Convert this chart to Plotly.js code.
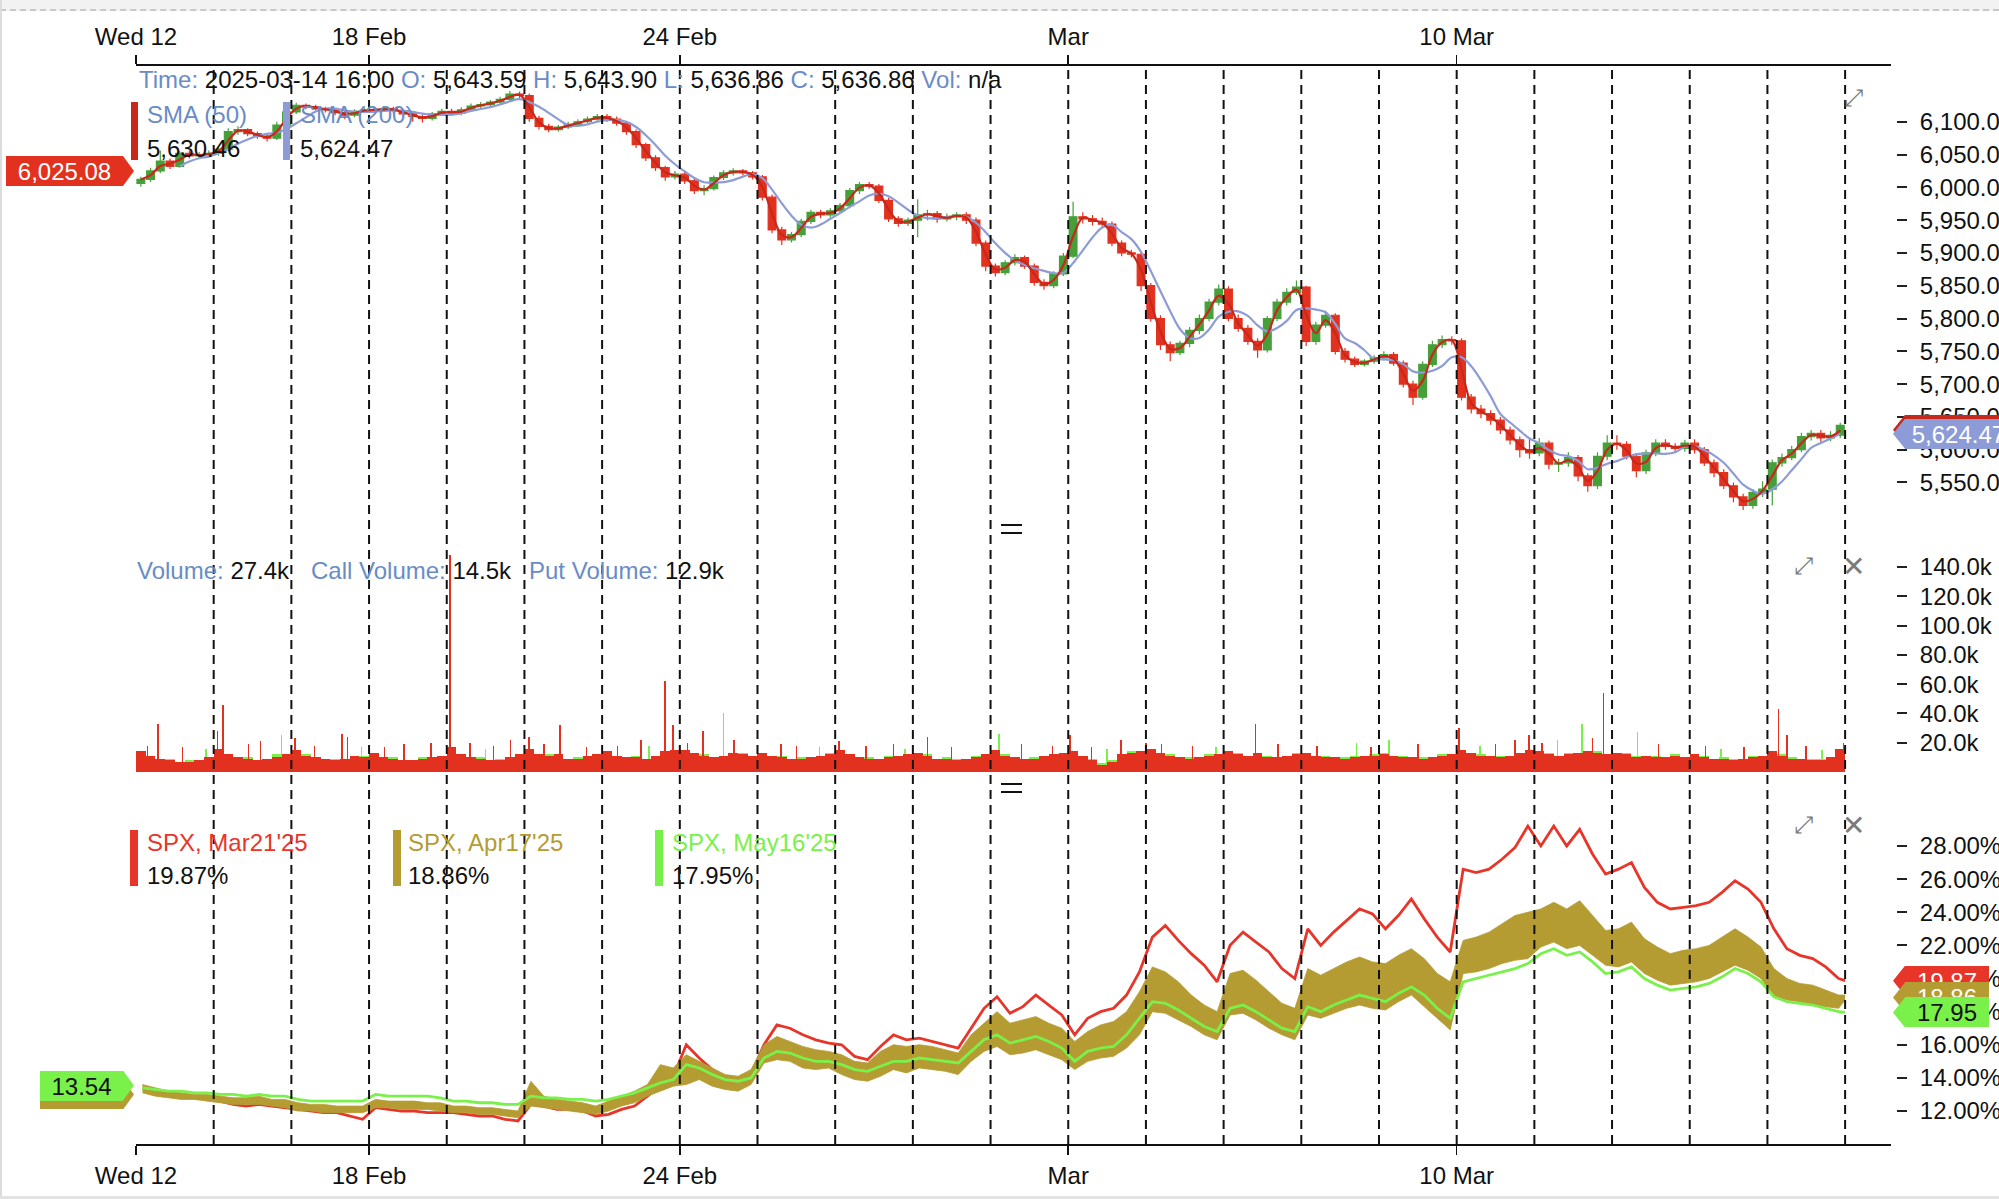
<!DOCTYPE html>
<html><head><meta charset="utf-8">
<script src="https://cdn.plot.ly/plotly-3.0.1.min.js"></script>
<style>
html,body{margin:0;padding:0;background:#fff;overflow:hidden;}
#chart{position:absolute;left:0;top:0;width:1999px;height:1199px;}
#topband{position:absolute;left:0;top:0;width:1999px;height:9px;background:#f2f2f2;border-bottom:2px dashed #c8c8c8;z-index:5;}
#leftedge{position:absolute;left:0;top:0;width:2px;height:1199px;background:#dcdcdc;z-index:5;}
#bottomedge{position:absolute;left:0;top:1196px;width:1999px;height:3px;background:#e2e2e2;z-index:5;}
</style></head><body>
<div id="chart"></div>
<div id="topband"></div><div id="leftedge"></div><div id="bottomedge"></div>
<script>
// ---------- DATA ----------
const tickPos  = [0, 3, 7, 12, 17];
const tickText = ['Wed 12', '18 Feb', '24 Feb', 'Mar', '10 Mar'];
const tradingDays = ['12 Feb','13 Feb','14 Feb','18 Feb','19 Feb','20 Feb','21 Feb','24 Feb','25 Feb','26 Feb','27 Feb','28 Feb',
                     '3 Mar','4 Mar','5 Mar','6 Mar','7 Mar','10 Mar','11 Mar','12 Mar','13 Mar','14 Mar'];
const candlesPerDay = 8;
const firstOpen = 6006;
const pxClose = [
 6012,6025,6040,6032,6052,6048,6050,6052,
 6058,6085,6088,6082,6078,6075,6095,6115,
 6125,6123,6120,6118,6114,6110,6116,6118,
 6118,6120,6117,6112,6108,6105,6112,6116,
 6113,6118,6124,6126,6130,6134,6142,6140,
 6105,6093,6088,6092,6096,6100,6104,6108,
 6104,6098,6085,6065,6045,6030,6016,6020,
 6010,5995,5998,6015,6022,6025,6022,6016,
 5985,5935,5920,5928,5948,5962,5958,5964,
 5972,5995,6004,6002,5980,5952,5945,5950,
 5958,5960,5952,5955,5958,5950,5915,5880,
 5870,5885,5893,5880,5855,5850,5868,5895,
 5955,5952,5948,5944,5915,5900,5898,5850,
 5800,5760,5748,5762,5782,5800,5825,5845,
 5800,5785,5765,5752,5800,5825,5840,5848,
 5765,5790,5805,5750,5738,5730,5735,5740,
 5745,5732,5700,5680,5730,5760,5768,5766,
 5680,5662,5655,5645,5630,5615,5600,5595,
 5610,5578,5580,5588,5560,5545,5590,5610,
 5608,5590,5568,5595,5610,5605,5602,5610,
 5600,5580,5565,5545,5528,5515,5535,5540,
 5580,5588,5600,5620,5625,5618,5622,5637
];
const pxHigh = [
 6016,6030,6056,6044,6055,6056,6054,6056,
 6062,6090,6093,6090,6085,6081,6100,6120,
 6129,6128,6126,6123,6121,6117,6119,6122,
 6122,6124,6123,6119,6115,6111,6115,6120,
 6120,6122,6128,6130,6133,6138,6147,6146,
 6143,6109,6097,6095,6100,6104,6108,6112,
 6112,6108,6101,6088,6068,6049,6033,6025,
 6024,6014,6003,6018,6026,6029,6028,6025,
 6019,5989,5940,5932,5952,5966,5966,5968,
 5976,5999,6008,6008,6005,5984,5956,5954,
 5982,5966,5964,5960,5962,5962,5954,5919,
 5884,5889,5898,5896,5884,5860,5872,5900,
 5978,5962,5958,5954,5948,5919,5905,5902,
 5854,5805,5765,5766,5787,5806,5830,5852,
 5849,5806,5790,5770,5804,5830,5846,5858,
 5850,5795,5812,5808,5755,5742,5738,5744,
 5750,5749,5736,5705,5735,5766,5774,5773,
 5770,5685,5668,5660,5650,5635,5620,5618,
 5618,5614,5586,5596,5592,5564,5596,5622,
 5622,5613,5594,5600,5616,5616,5610,5615,
 5616,5604,5585,5570,5550,5533,5540,5552,
 5585,5594,5606,5626,5630,5630,5628,5641
];
const pxLow = [
 6001,6008,6022,6028,6030,6044,6045,6047,
 6048,6055,6080,6078,6074,6070,6072,6092,
 6112,6119,6117,6114,6110,6104,6107,6113,
 6114,6115,6113,6108,6100,6099,6102,6109,
 6109,6110,6115,6120,6123,6127,6131,6136,
 6100,6088,6084,6085,6089,6093,6098,6101,
 6100,6094,6080,6060,6040,6025,6010,6012,
 6005,5990,5988,5995,6011,6018,6018,6012,
 5980,5930,5912,5916,5924,5944,5953,5954,
 5960,5968,5990,5998,5976,5947,5940,5941,
 5924,5950,5946,5948,5950,5944,5910,5872,
 5864,5866,5881,5876,5850,5844,5846,5865,
 5892,5945,5942,5939,5910,5895,5893,5842,
 5795,5752,5735,5744,5756,5776,5796,5820,
 5796,5780,5760,5740,5748,5796,5820,5836,
 5758,5760,5786,5745,5733,5726,5727,5731,
 5736,5728,5695,5668,5676,5726,5755,5760,
 5675,5655,5648,5638,5624,5608,5588,5586,
 5590,5570,5566,5574,5552,5536,5540,5584,
 5600,5585,5558,5563,5590,5600,5596,5597,
 5594,5575,5558,5540,5520,5508,5510,5528,
 5515,5574,5584,5596,5614,5612,5613,5618
];
const smaFastLen = 2, smaSlowLen = 5;   // shown as SMA (50) / SMA (200) on 1-min bars
const priceTicks = [5550,5600,5650,5700,5750,5800,5850,5900,5950,6000,6050,6100];

// volume (thousands), 8 buckets per day
const volPut = [
 14,11,9,8,7,7,8,10,  16,12,10,9,8,9,10,12,  15,11,10,9,8,9,11,10,  13,10,9,8,8,9,10,11,
 17,12,10,9,8,8,10,12,  16,12,11,12,9,9,11,12,  14,11,10,10,9,11,14,15,  15,13,11,10,11,13,12,11,
 13,11,10,9,9,10,11,12,  15,12,10,9,9,10,11,12,  13,11,9,9,8,9,10,12,  15,11,10,9,9,11,12,13,
 14,11,8,5,7,12,13,14,  16,13,11,10,9,10,11,12,  14,12,11,13,10,10,11,12,  13,11,10,10,9,10,11,11,
 12,11,10,10,9,10,11,12,  15,13,11,11,10,11,13,15,  14,12,11,12,13,14,13,12,  13,12,10,11,10,10,11,10,
 12,10,9,9,8,9,10,11,  14,11,9,9,8,8,10,16
];
const volCall = [
 12,9,8,9,6,8,7,9,  13,11,9,10,7,8,12,11,  13,12,9,8,9,8,9,11,  12,9,10,7,7,10,9,10,
 14,11,9,10,7,9,9,11,  15,11,12,10,8,10,10,11,  12,10,9,11,8,10,12,14,  14,12,12,9,10,12,13,10,
 12,10,11,8,10,9,10,13,  13,11,9,10,8,11,10,11,  12,12,8,10,9,8,11,11,  14,12,9,8,10,10,11,12,
 13,10,9,6,8,11,14,13,  15,12,12,9,10,9,12,11,  13,13,10,11,11,9,10,13,  12,10,11,9,10,11,10,12,
 13,10,11,9,10,9,12,11,  14,12,12,10,11,10,12,14,  13,13,10,13,12,13,14,11,  12,13,11,10,11,9,12,9,
 11,11,8,10,9,8,11,10,  13,12,10,8,9,9,9,15
];
const putSpikeX = [0.15,0.28,0.6,1.05,1.12,1.45,1.6,2.05,2.3,2.65,2.72,3.2,3.45,3.8,4.04,4.3,4.6,4.82,5.06,5.25,5.46,5.8,
 6.2,6.5,6.81,6.91,7.1,7.3,7.7,8.3,8.5,9.05,9.4,9.75,10.19,10.5,11.4,11.8,12.02,12.3,12.68,13.0,13.2,13.6,14.41,14.7,
 15.2,15.9,16.5,17.03,17.5,17.75,17.93,18.1,18.75,18.89,19.6,20.2,20.7,21.14,21.25,21.5,21.98];
const putSpikeV = [18,33,17,28,46,19,21,23,18,26,24,17,19,20,148,20,18,22,24,19,32,17,
 18,22,62,32,20,28,22,19,18,21,18,19,24,17,19,18,25,17,22,20,19,18,33,19,
 18,17,19,30,19,22,25,20,23,54,19,18,17,43,25,18,20];
const callSpikeX = [0.9,1.87,2.9,4.5,6.6,7.56,8.8,9.9,11.11,12.5,13.9,15.71,16.13,17.3,18.3,18.61,19.33,20.4,21.7];
const callSpikeV = [16,25,17,16,18,40,17,16,26,16,17,20,22,18,22,33,27,16,15];
const volTicks = [20,40,60,80,100,120,140];

// implied volatility (%), 6 samples per day + final close value
const ivPerDay = 6;
const ivMar = [
 13.4,13.2,13.0,12.9,12.8,12.8, 12.6,12.4,12.3,12.4,12.3,12.2, 12.1,12.0,11.9,11.9,11.7,11.5,
 12.2,12.1,12.0,12.0,11.9,11.9, 11.9,11.8,11.7,11.7,11.5,11.4, 12.4,12.3,12.1,12.1,12.0,11.7,
 11.8,12.1,12.3,12.9,13.5,14.1, 16.0,15.2,14.5,14.0,13.9,14.2, 16.0,17.2,17.0,16.6,16.3,16.1,
 16.0,15.3,15.1,15.9,16.6,16.3, 16.4,16.2,16.0,15.8,17.0,18.2, 18.9,17.9,18.3,19.0,18.4,17.8,
 16.6,17.6,18.0,18.2,19.0,20.4, 22.5,23.2,22.3,21.5,20.8,19.8, 22.0,22.8,22.2,21.6,20.6,20.0,
 23.0,22.0,22.8,23.5,24.2,23.9, 23.0,23.8,24.8,23.6,22.5,21.6, 26.6,26.4,26.6,27.2,27.9,29.2,
 28.0,29.2,28.0,29.0,27.5,26.3, 26.6,27.0,25.5,24.6,24.2,24.3, 24.4,24.6,25.2,25.9,25.4,24.6,
 23.0,21.8,21.4,21.2,20.7,20.0, 19.87
];
const ivMay = [
 13.4,13.3,13.2,13.2,13.1,13.1, 13.0,13.0,12.9,13.0,12.9,12.9, 12.7,12.6,12.6,12.6,12.6,12.6,
 13.0,12.9,12.9,12.9,12.9,12.8, 12.6,12.6,12.5,12.5,12.4,12.4, 12.9,12.8,12.8,12.7,12.7,12.6,
 12.7,12.9,13.1,13.4,13.7,13.9, 14.8,14.6,14.2,13.9,13.8,14.0, 15.2,15.6,15.5,15.2,15.0,15.0,
 14.8,14.5,14.4,14.7,15.0,15.0, 15.2,15.1,15.0,14.9,15.6,16.3, 16.6,16.1,16.3,16.5,16.2,15.8,
 15.0,15.6,15.8,15.9,16.6,17.6, 18.6,18.5,18.1,17.6,17.1,16.8, 18.2,18.4,18.0,17.5,17.0,16.8,
 18.3,18.0,18.4,18.7,19.0,18.8, 18.6,19.1,19.5,19.0,18.2,17.6, 19.8,20.0,20.2,20.4,20.6,20.9,
 21.5,21.8,21.4,21.6,21.0,20.3, 20.4,20.7,20.0,19.6,19.3,19.4, 19.5,19.7,20.1,20.6,20.3,19.8,
 18.9,18.6,18.5,18.4,18.2,18.0, 17.95
];
const ivAprHigh = [
 13.6,13.4,13.2,13.1,13.0,13.0, 12.9,12.8,12.8,12.9,12.7,12.7, 12.5,12.4,12.4,12.3,12.3,12.3,
 12.7,12.6,12.6,12.6,12.5,12.5, 12.3,12.3,12.2,12.2,12.1,12.0, 13.8,12.9,12.7,12.6,12.5,12.3,
 12.6,12.9,13.2,13.6,14.8,14.6, 15.4,15.0,14.6,14.2,14.1,14.5, 16.0,16.5,16.2,15.9,15.7,15.6,
 15.4,15.0,14.9,15.6,16.0,15.9, 16.0,15.9,15.7,15.5,16.6,17.3, 18.0,17.3,17.5,17.7,17.3,17.0,
 16.2,16.8,17.2,17.4,18.0,19.2, 20.7,20.4,19.8,19.0,18.4,18.0, 20.3,20.5,19.9,19.2,18.5,18.2,
 20.6,20.2,20.6,21.0,21.3,21.0, 20.9,21.4,21.8,21.2,20.3,19.8, 22.3,22.5,22.8,23.3,23.8,24.0,
 24.2,24.6,24.2,24.7,23.8,22.9, 23.0,23.4,22.4,21.9,21.5,21.7, 21.8,22.0,22.5,23.0,22.5,21.9,
 20.6,20.0,19.7,19.6,19.3,19.0, 19.0
];
const ivAprLow = [
 13.1,12.9,12.8,12.7,12.7,12.6, 12.5,12.4,12.4,12.4,12.3,12.2, 12.0,12.0,11.9,11.9,11.9,11.9,
 12.2,12.2,12.1,12.1,12.1,12.0, 11.9,11.9,11.8,11.8,11.7,11.6, 12.3,12.2,12.1,12.0,11.9,11.8,
 12.0,12.3,12.5,12.9,13.2,13.5, 13.6,13.9,13.5,13.3,13.2,13.6, 14.9,15.1,15.0,14.6,14.5,14.6,
 14.2,13.9,13.8,14.1,14.5,14.3, 14.6,14.5,14.4,14.2,15.0,15.6, 15.9,15.4,15.5,15.7,15.4,15.1,
 14.5,15.0,15.2,15.3,15.8,16.6, 18.0,17.9,17.5,17.1,16.6,16.3, 17.8,17.9,17.5,17.0,16.6,16.3,
 17.8,17.6,17.9,18.2,18.4,18.2, 18.1,18.6,19.0,18.3,17.6,16.9, 20.3,20.4,20.6,20.9,21.1,21.2,
 21.9,22.2,21.8,22.0,21.4,20.8, 20.7,21.0,20.3,19.9,19.6,19.7, 19.8,20.0,20.4,20.8,20.5,20.0,
 18.9,18.7,18.6,18.4,18.3,18.2, 18.7
];
const ivTicks = [12,14,16,18,20,22,24,26,28];

// legend / tag texts
const lastBar = {time:'2025-03-14 16:00', O:'5,643.59', H:'5,643.90', L:'5,636.86', C:'5,636.86', Vol:'n/a'};
const smaVals = {fast:'5,630.46', slow:'5,624.47', fastNum:5630.46, slowNum:5624.47};
const volVals = {total:'27.4k', call:'14.5k', put:'12.9k'};
const ivNames = ["SPX, Mar21'25", "SPX, Apr17'25", "SPX, May16'25"];
const ivLast  = [19.87, 18.86, 17.95];
const firstTag = {price:6025.08, iv:13.54};

// ---------- COLOURS ----------
const C_UP='#45a03a', C_DN='#e2321f', C_SMAF='#c8281c', C_SMAS='#8d9cd6';
const C_RED='#e8352a', C_GOLD='#b49c32', C_GREEN='#7af04a', C_LBL='#6a8cc6';

// ---------- BUILD ----------
const candleX = pxClose.map((_, i) => Math.floor(i / candlesPerDay) + (i % candlesPerDay + 0.5) / candlesPerDay);
const pxOpen = pxClose.map((c, i) => i === 0 ? firstOpen : pxClose[i - 1]);
function sma(arr, n, partial) {
  return arr.map((v, i) => {
    if (i < n - 1 && !partial) return null;
    const s = arr.slice(Math.max(0, i - n + 1), i + 1);
    return s.reduce((a, b) => a + b, 0) / s.length;
  });
}
const smaFast = sma(pxClose, smaFastLen, true);
const smaSlow = sma(pxClose, smaSlowLen, false);
const nDays = tradingDays.length;
const ivX = ivMar.map((_, i) => i < nDays * ivPerDay ? Math.floor(i / ivPerDay) + (i % ivPerDay + 0.5) / ivPerDay : nDays);

const data = [
  {type:'candlestick', x:candleX, open:pxOpen, high:pxHigh, low:pxLow, close:pxClose, xaxis:'x', yaxis:'y',
   increasing:{line:{color:C_UP, width:1.2}, fillcolor:C_UP}, decreasing:{line:{color:C_DN, width:1.2}, fillcolor:C_DN},
   whiskerwidth:0, hoverinfo:'skip'},
  {type:'scatter', mode:'lines', x:candleX, y:smaSlow, xaxis:'x', yaxis:'y', line:{color:C_SMAS, width:2.2, shape:'spline'}, hoverinfo:'skip'},
  {type:'scatter', mode:'lines', x:candleX, y:smaFast, xaxis:'x', yaxis:'y', line:{color:C_SMAF, width:2.2, shape:'spline'}, hoverinfo:'skip'},

  {type:'bar', x:candleX, y:volCall, xaxis:'x', yaxis:'y2', width:1/candlesPerDay, marker:{color:C_GREEN, line:{width:0}}, hoverinfo:'skip'},
  {type:'bar', x:callSpikeX, y:callSpikeV, xaxis:'x', yaxis:'y2', width:0.02, marker:{color:C_GREEN, line:{width:0}}, hoverinfo:'skip'},
  {type:'bar', x:candleX, y:volPut, xaxis:'x', yaxis:'y2', width:1/candlesPerDay, marker:{color:C_DN, line:{width:0}}, hoverinfo:'skip'},
  {type:'bar', x:putSpikeX, y:putSpikeV, xaxis:'x', yaxis:'y2', width:0.02, marker:{color:C_DN, line:{width:0}}, hoverinfo:'skip'},

  {type:'scatter', mode:'lines', x:ivX, y:ivMar, xaxis:'x2', yaxis:'y3', line:{color:C_RED, width:2.8}, hoverinfo:'skip'},
  {type:'scatter', mode:'lines', x:ivX, y:ivAprLow, xaxis:'x2', yaxis:'y3', line:{color:C_GOLD, width:0.8}, hoverinfo:'skip'},
  {type:'scatter', mode:'lines', x:ivX, y:ivAprHigh, xaxis:'x2', yaxis:'y3', fill:'tonexty', fillcolor:C_GOLD, line:{color:C_GOLD, width:0.8}, hoverinfo:'skip'},
  {type:'scatter', mode:'lines', x:ivX, y:ivMay, xaxis:'x2', yaxis:'y3', line:{color:C_GREEN, width:2.8}, hoverinfo:'skip'}
];

// pixel -> paper helpers (for text and decorations only)
const L = 136, W = 1863, T = 66, H = 1078;
const px = x => (x - L) / W, py = y => (T + H - y) / H;

const shapes = [];
for (let d = 1; d <= nDays; d++) {
  shapes.push({type:'line', xref:'x', yref:'paper', x0:d, x1:d, y0:0, y1:1, layer:'above',
               line:{color:'#111', width:2, dash:'9px,6px'}});
}
function rect(x0, x1, y0, y1, color) {
  shapes.push({type:'rect', xref:'paper', yref:'paper', x0:px(x0), x1:px(x1), y0:py(y1), y1:py(y0), fillcolor:color, line:{width:0}, layer:'above'});
}
rect(131, 138, 102, 160, C_SMAF);
rect(283, 290, 102, 160, C_SMAS);
rect(130, 138, 830, 886, C_RED);
rect(393, 401, 830, 886, C_GOLD);
rect(655, 663, 830, 886, C_GREEN);
// separators
[529, 788].forEach(y => {
  [-4, 4].forEach(o => shapes.push({type:'line', xref:'paper', yref:'paper', x0:px(1001), x1:px(1022), y0:py(y + o), y1:py(y + o), line:{color:'#111', width:2}, layer:'above'}));
});
// tag tips
function tip(side, yref, yval, color) {
  const path = side === 'left' ? 'M -13,-15 L -2,0 L -13,15 Z' : 'M -94,-15 L -106,0 L -94,15 Z';
  shapes.push({type:'path', xref:'paper', xsizemode:'pixel', xanchor: side === 'left' ? 0 : (1999 - L) / W,
               yref:yref, ysizemode:'pixel', yanchor:yval, path:path, fillcolor:color, line:{width:0}, layer:'above'});
}
tip('left', 'y', firstTag.price, C_DN);
tip('left', 'y3', 13.0, C_GOLD);
tip('left', 'y3', firstTag.iv, C_GREEN);
tip('right', 'y', smaVals.fastNum, C_SMAF);
tip('right', 'y', smaVals.slowNum, C_SMAS);
tip('right', 'y3', ivLast[0], C_RED);
tip('right', 'y3', ivLast[1], C_GOLD);
tip('right', 'y3', ivLast[2], C_GREEN);

const lbl = s => '<span style="color:' + C_LBL + '">' + s + '</span>';
const annotations = [];
function txt(x, y, text, color, size, extra) {
  annotations.push(Object.assign({xref:'paper', yref:'paper', x:px(x), y:py(y), xanchor:'left', yanchor:'middle',
    text:text, showarrow:false, font:{size:size || 24, color:color || '#111'}}, extra || {}));
}
txt(137, 79, lbl('Time:') + ' ' + lastBar.time + ' ' + lbl('O:') + ' ' + lastBar.O + ' ' + lbl('H:') + ' ' + lastBar.H + ' ' +
    lbl('L:') + ' ' + lastBar.L + ' ' + lbl('C:') + ' ' + lastBar.C + ' ' + lbl('Vol:') + ' ' + lastBar.Vol);
txt(145, 115, 'SMA (50)', C_LBL);
txt(145, 148, smaVals.fast);
txt(298, 115, 'SMA (200)', C_LBL);
txt(298, 148, smaVals.slow);
txt(135, 570, lbl('Volume:') + ' ' + volVals.total);
txt(309, 570, lbl('Call Volume:') + ' ' + volVals.call);
txt(527, 570, lbl('Put Volume:') + ' ' + volVals.put);
txt(145, 842, ivNames[0], C_RED);
txt(145, 875, ivLast[0].toFixed(2) + '%');
txt(406, 842, ivNames[1], C_GOLD);
txt(406, 875, ivLast[1].toFixed(2) + '%');
txt(670, 842, ivNames[2], C_GREEN);
txt(670, 875, ivLast[2].toFixed(2) + '%');
// icons
const iconFont = {family:'DejaVu Sans', size:24, color:'#7a7a7a'};
const xFont = {family:'DejaVu Sans', size:28, color:'#7a7a7a'};
[[1853, 98, '\u2922', iconFont], [1803, 566, '\u2922', iconFont], [1853, 566, '\u2715', xFont],
 [1803, 825, '\u2922', iconFont], [1853, 825, '\u2715', xFont]].forEach(a => {
  annotations.push({xref:'paper', yref:'paper', x:px(a[0]), y:py(a[1]), xanchor:'center', yanchor:'middle', text:a[2], showarrow:false, font:a[3]});
});
// tags (boxes as annotations so later ones cover earlier ones)
function tag(side, yref, yval, text, bg, fg, w) {
  const o = {yref:yref, y:yval, yanchor:'middle', text:text, showarrow:false, bgcolor:bg, borderpad:0, borderwidth:0,
             height:30, width:w, font:{size:24, color:fg}, xref:'paper'};
  if (side === 'left') { o.x = 0; o.xanchor = 'right'; o.xshift = -13; o.align = 'center'; }
  else { o.x = (1999 - L) / W; o.xanchor = 'left'; o.xshift = -94; o.align = side === 'rightwide' ? 'left' : 'center'; }
  annotations.push(o);
}
tag('left', 'y', firstTag.price, firstTag.price.toLocaleString('en-US', {minimumFractionDigits:2}), C_DN, '#fff', 117);
tag('left', 'y3', 13.0, '', C_GOLD, '#fff', 83);
tag('left', 'y3', firstTag.iv, firstTag.iv.toFixed(2), C_GREEN, '#111', 83);
tag('rightwide', 'y', smaVals.fastNum, '&nbsp;' + smaVals.fast, C_SMAF, '#fff', 124);
tag('rightwide', 'y', smaVals.slowNum, '&nbsp;' + smaVals.slow, C_SMAS, '#fff', 124);
tag('right', 'y3', ivLast[0], ivLast[0].toFixed(2), C_RED, '#fff', 84);
tag('right', 'y3', ivLast[1], ivLast[1].toFixed(2), C_GOLD, '#fff', 84);
tag('right', 'y3', ivLast[2], ivLast[2].toFixed(2), C_GREEN, '#111', 84);

const xCommon = {domain:[0, 0.942], range:[0, 22.59], type:'linear', showline:true, linecolor:'#111', linewidth:2,
  tickmode:'array', tickvals:tickPos, ticktext:tickText, ticks:'outside', ticklen:9, tickwidth:1.5, tickcolor:'#111',
  showgrid:false, zeroline:false, fixedrange:true, tickfont:{size:24, color:'#111'}};
const yCommon = {side:'right', anchor:'free', position:(1896 - L) / W, ticks:'outside', ticklen:10, tickwidth:2, tickcolor:'#222',
  showgrid:false, zeroline:false, showline:false, fixedrange:true, tickfont:{size:24, color:'#111'}, ticklabelstandoff:8, tickmode:'array'};

const layout = {
  width:1999, height:1199, margin:{l:L, r:0, t:T, b:55},
  paper_bgcolor:'#ffffff', plot_bgcolor:'rgba(0,0,0,0)', showlegend:false,
  font:{family:'Liberation Sans, Arial, sans-serif', size:24, color:'#111'},
  barmode:'overlay', bargap:0, boxgap:0.2, boxgroupgap:0,
  xaxis:Object.assign({}, xCommon, {side:'top', anchor:'y', rangeslider:{visible:false}}),
  xaxis2:Object.assign({}, xCommon, {side:'bottom', anchor:'y3', matches:'x'}),
  yaxis:Object.assign({}, yCommon, {domain:[0.5881, 1], range:[5508, 6185], tickvals:priceTicks,
        ticktext:priceTicks.map(v => v.toLocaleString('en-US', {minimumFractionDigits:2}))}),
  yaxis2:Object.assign({}, yCommon, {domain:[0.3451, 0.5492], range:[0, 150.3], tickvals:volTicks,
        ticktext:volTicks.map(v => v.toFixed(1) + 'k')}),
  yaxis3:Object.assign({}, yCommon, {domain:[0, 0.3098], range:[10.01, 30.17], tickvals:ivTicks,
        ticktext:ivTicks.map(v => v.toFixed(2) + '%')}),
  shapes:shapes, annotations:annotations
};
Plotly.newPlot('chart', data, layout, {staticPlot:true, displayModeBar:false});
</script></body></html>
